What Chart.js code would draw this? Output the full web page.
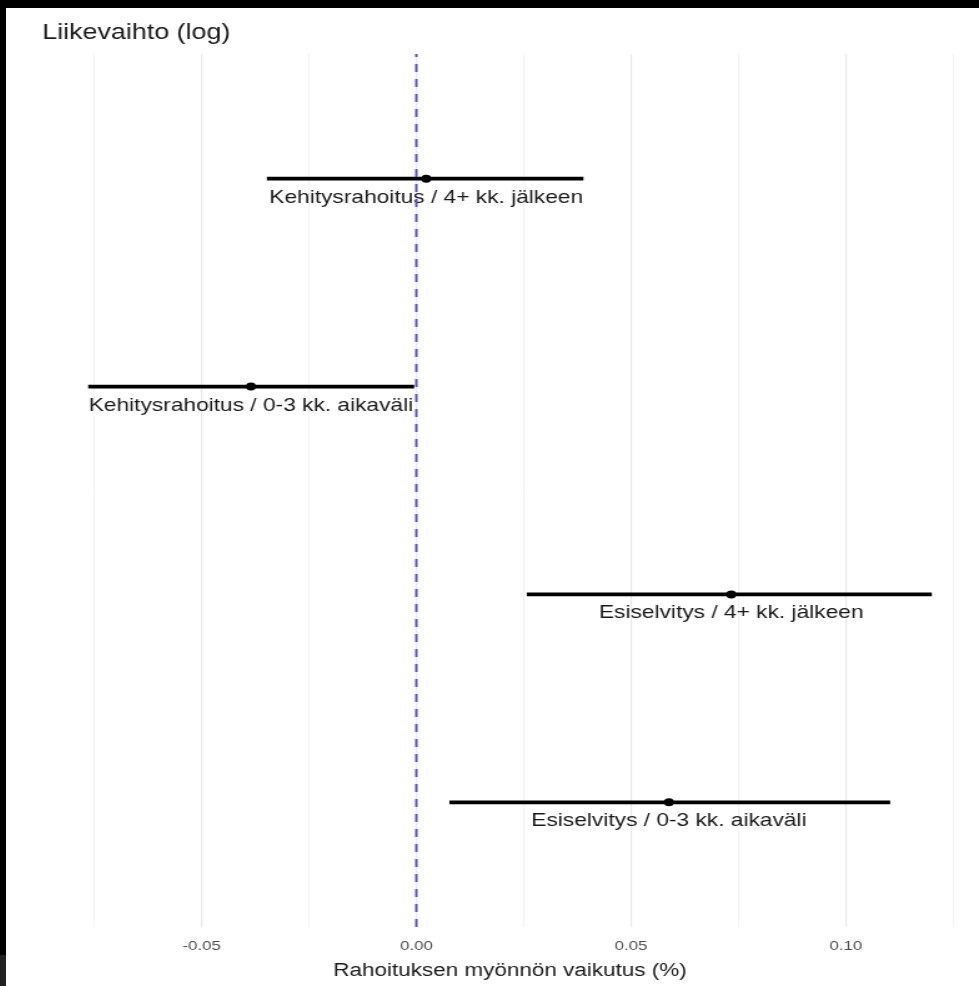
<!DOCTYPE html>
<html>
<head>
<meta charset="utf-8">
<script src="https://cdn.jsdelivr.net/npm/chart.js@4/dist/chart.umd.min.js"></script>
<style>
  html, body { margin: 0; padding: 0; background: #000; overflow: hidden; }
  body { width: 979px; height: 986px; position: relative; }
  #wrap { position: absolute; left: 6px; top: 8px; width: 973px; height: 978px; background: #fff; }
  #c { display: block; width: 973px; height: 978px; }
  #corner { position: absolute; left: 0; top: 955px; width: 6px; height: 31px; background: #222; }
</style>
</head>
<body>
<div id="wrap"><canvas id="c" width="779" height="978" style="width:973px;height:978px"></canvas></div>
<div id="corner"></div>
<script>
// ---- data ----
const categories = [
  "Esiselvitys / 0-3 kk. aikaväli",
  "Esiselvitys / 4+ kk. jälkeen",
  "Kehitysrahoitus / 0-3 kk. aikaväli",
  "Kehitysrahoitus / 4+ kk. jälkeen"
];
const estimates = [0.0588, 0.0733, -0.0385, 0.0023];
const lowerCI   = [0.0077, 0.0257, -0.0764, -0.0348];
const upperCI   = [0.1103, 0.1200, -0.0005, 0.0389];
const majorTicks = [-0.05, 0, 0.05, 0.10];
const majorTickLabels = ["-0.05", "0.00", "0.05", "0.10"];
const minorTicks = [-0.075, -0.025, 0.025, 0.075, 0.125];
const chartTitle = "Liikevaihto (log)";
const xAxisTitle = "Rahoituksen myönnön vaikutus (%)";
const referenceValue = 0;

// ---- derived ----
const rowPos = categories.map((c, i) => i + 1);
const lo = Math.min(...lowerCI), hi = Math.max(...upperCI);
const span = hi - lo;
const xMin = lo - 0.05 * span, xMax = hi + 0.05 * span;
const yMin = 1 - 0.6, yMax = categories.length + 0.6;
const allTicks = majorTicks.concat(minorTicks).sort((a, b) => a - b);
const isMajor = v => majorTicks.some(m => Math.abs(m - v) < 1e-9);
const FONT = "'Liberation Sans', Arial, Helvetica, sans-serif";

const datasets = [];
datasets.push({
  type: 'line',
  data: [{ x: referenceValue, y: yMin }, { x: referenceValue, y: yMax }],
  borderColor: '#5353bd',
  borderWidth: 2,
  borderDash: [8, 7],
  pointRadius: 0,
  clip: false
});
datasets.push({
  type: 'scatter',
  data: rowPos.map((p, i) => ({ x: estimates[i], y: p })),
  backgroundColor: '#000',
  borderColor: '#000',
  pointRadius: 4,
  pointBorderWidth: 0
});
rowPos.forEach((p, i) => {
  datasets.push({
    type: 'line',
    data: [{ x: lowerCI[i], y: p }, { x: upperCI[i], y: p }],
    borderColor: '#000',
    borderWidth: 3.8,
    pointRadius: 0
  });
});

const labelPlugin = {
  id: 'rowLabels',
  beforeDatasetsDraw(chart) {
    const { ctx, scales } = chart;
    ctx.save();
    ctx.font = "18.2px " + FONT;
    ctx.fillStyle = '#1a1a1a';
    ctx.textAlign = 'center';
    ctx.textBaseline = 'alphabetic';
    rowPos.forEach((p, i) => {
      const x = scales.x.getPixelForValue(estimates[i]);
      const y = scales.y.getPixelForValue(p);
      ctx.fillText(categories[i], x, y + 24);
    });
    ctx.restore();
  }
};

new Chart(document.getElementById('c'), {
  data: { datasets },
  plugins: [labelPlugin],
  options: {
    responsive: false,
    animation: false,
    devicePixelRatio: 1,
    layout: { padding: { left: 29, right: 2.4, top: 0, bottom: 0 } },
    plugins: {
      legend: { display: false },
      tooltip: { enabled: false },
      title: {
        display: true,
        text: chartTitle,
        align: 'start',
        color: '#1a1a1a',
        font: { family: FONT, size: 21.5, weight: 'normal' },
        padding: { top: 12, bottom: 8.2 }
      }
    },
    scales: {
      x: {
        type: 'linear',
        min: xMin,
        max: xMax,
        afterBuildTicks: s => { s.ticks = allTicks.map(v => ({ value: v })); },
        afterFit: s => { s.height = 59; },
        border: { display: false },
        grid: {
          drawTicks: false,
          color: c => isMajor(c.tick.value) ? '#e8e8e8' : '#f0f0f0',
          lineWidth: c => isMajor(c.tick.value) ? 1.2 : 0.9
        },
        ticks: {
          autoSkip: false,
          maxRotation: 0,
          padding: 11,
          color: '#4d4d4d',
          font: { family: FONT, size: 13.5 },
          callback: v => {
            const k = majorTicks.findIndex(m => Math.abs(m - v) < 1e-9);
            return k >= 0 ? majorTickLabels[k] : '';
          }
        },
        title: {
          display: true,
          text: xAxisTitle,
          color: '#1a1a1a',
          font: { family: FONT, size: 18 },
          padding: { top: 4, bottom: 4 }
        }
      },
      y: {
        type: 'linear',
        min: yMin,
        max: yMax,
        afterFit: s => { s.width = 3; },
        border: { display: false },
        grid: { display: false },
        ticks: { display: false }
      }
    }
  }
});
</script>
</body>
</html>
